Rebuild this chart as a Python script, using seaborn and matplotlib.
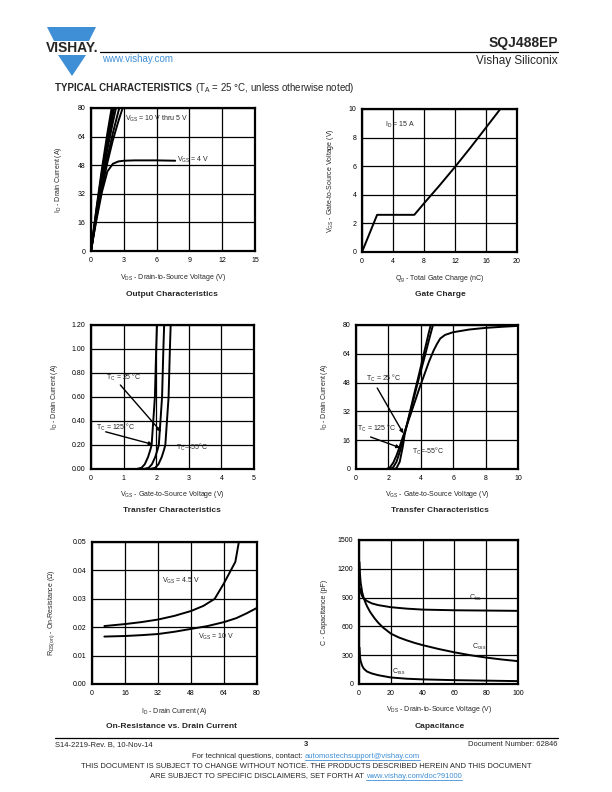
import matplotlib
matplotlib.use("Agg")
import matplotlib.pyplot as plt
import seaborn as sns
from matplotlib.patches import Polygon

sns.set_theme(style="white")
plt.rcParams['font.family'] = ['Liberation Sans', 'DejaVu Sans']
plt.rcParams['mathtext.fontset'] = 'custom'
plt.rcParams['mathtext.rm'] = 'Liberation Sans'
plt.rcParams['mathtext.it'] = 'Liberation Sans:italic'
plt.rcParams['mathtext.bf'] = 'Liberation Sans:bold'

# ---------------- data ----------------
# Output characteristics (VDS in V, ID in A)
out_vds_hi = [0, 0.25, 0.5, 1.0, 1.5, 2.0, 2.5, 3.0]
out_id_10v = [0, 12, 24, 46, 66, 84, 100, 114]
out_id_9v = [0, 11.5, 23, 44, 63, 80, 95, 108]
out_id_8v = [0, 11, 22, 42, 60, 76, 91, 104]
out_id_7v = [0, 10.5, 21, 40, 57, 72, 86, 99]
out_id_6v = [0, 10, 19.5, 37, 52.5, 66, 78, 89]
out_id_5v = [0, 9.5, 18.5, 35, 49.5, 62, 72.5, 82]
out_vds_4v = [0, 0.25, 0.5, 1.0, 1.5, 2.0, 2.5, 3.0, 4.0, 5.0, 6.0, 7.7]
out_id_4v = [0, 9, 17.5, 33, 44.5, 48.8, 50.1, 50.5, 50.7, 50.7, 50.7, 50.5]

# Gate charge
qg_nc = [0, 1.95, 6.75, 8, 10, 12, 14, 16, 17.85]
vgs_v = [0, 2.6, 2.6, 3.4, 4.65, 5.95, 7.3, 8.7, 10]

# Transfer characteristics, low current (VGS in V, ID in A)
tl_vgs_125 = [1.40, 1.55, 1.65, 1.75, 1.82, 1.86, 1.91, 1.96, 2.00, 2.03]
tl_id_125 = [0, 0.01, 0.04, 0.10, 0.16, 0.20, 0.40, 0.60, 1.00, 1.25]
tl_vgs_25 = [1.62, 1.77, 1.87, 1.97, 2.04, 2.08, 2.13, 2.18, 2.22, 2.25]
tl_id_25 = [0, 0.01, 0.04, 0.10, 0.16, 0.20, 0.40, 0.60, 1.00, 1.25]
tl_vgs_m55 = [1.82, 1.97, 2.07, 2.17, 2.24, 2.28, 2.33, 2.38, 2.42, 2.45]
tl_id_m55 = [0, 0.01, 0.04, 0.10, 0.16, 0.20, 0.40, 0.60, 1.00, 1.25]

# Transfer characteristics, full range
tf_vgs_m55 = [0, 2.35, 2.5, 2.7, 2.9, 3.0, 3.3, 3.6, 3.9, 4.2, 4.5, 4.7]
tf_id_m55 = [0, 0, 0.5, 4, 13, 19, 30.5, 42, 53, 64.5, 76, 83]
tf_vgs_25 = [0, 2.1, 2.3, 2.5, 2.7, 2.9, 3.0, 3.3, 3.6, 3.9, 4.2, 4.5, 4.9]
tf_id_25 = [0, 0, 1, 4, 9.5, 16, 20, 30, 40.5, 51, 61, 71.5, 85]
tf_vgs_125 = [0, 1.9, 2.1, 2.3, 2.5, 2.7, 2.9, 3.0, 3.3, 3.6, 3.9, 4.2, 4.5,
              4.8, 5.0, 5.2, 5.5, 6.0, 7.0, 8.0, 9.0, 10.0]
tf_id_125 = [0, 0, 1, 3.5, 7.5, 12.5, 18, 20.5, 28.5, 36.5, 44.5, 52, 59.5,
             66, 69.5, 72.5, 74.5, 76, 77.5, 78.4, 79.0, 79.5]

# On-resistance vs drain current
ron_id_45 = [6, 16, 24, 32, 40, 48, 54, 59.5, 64, 69.5, 71.2]
ron_45 = [0.0204, 0.0211, 0.0218, 0.0227, 0.0240, 0.0257, 0.0275, 0.0300,
          0.0355, 0.0430, 0.0500]
ron_id_10 = [6, 16, 24, 32, 40, 48, 56, 64, 70, 75, 80]
ron_10 = [0.0167, 0.0169, 0.0172, 0.0176, 0.0184, 0.0194, 0.0204, 0.0218,
          0.0232, 0.0249, 0.0268]

# Capacitance (VDS in V, C in pF)
ciss_v = [0.5, 1, 2, 3, 5, 8, 12, 20, 30, 40, 60, 80, 100]
ciss = [1000, 960, 915, 890, 865, 840, 822, 800, 785, 775, 768, 765, 762]
coss_v = [0.3, 0.6, 1, 2, 3, 4, 5, 7, 10, 12, 15, 20, 25, 30, 35, 40, 50,
          60, 70, 80, 90, 100]
coss = [1270, 1150, 1060, 955, 895, 850, 812, 750, 680, 640, 590, 525, 485,
        455, 428, 405, 365, 330, 300, 275, 255, 238]
crss_v = [0.3, 0.6, 1, 2, 3, 5, 8, 12, 20, 30, 40, 60, 80, 100]
crss = [380, 290, 240, 190, 160, 130, 110, 92, 68, 55, 48, 40, 35, 30]

# ---------------- figure ----------------
W, H = 612, 792
fig = plt.figure(figsize=(W / 100, H / 100), dpi=100)
fig.patch.set_facecolor('white')


def rect(l, t, r, b):
    return [l / W, 1 - b / H, (r - l) / W, (b - t) / H]


def ftext(x, y, s, **kw):
    return fig.text(x / W, 1 - y / H, s, **kw)


def sub(a, b):
    return a + r"$_{\mathrm{" + b + r"}}$"


TICK_FS = 5
LAB_FS = 5
LW = 1.4


def style_axes(ax, xt, yt, xfmt, yfmt, xlab, ylab, xlc, ylc):
    ax.set_xlim(xt[0], xt[-1])
    ax.set_ylim(yt[0], yt[-1])
    ax.set_xticks(xt)
    ax.set_yticks(yt)
    ax.set_xticklabels([xfmt.format(v) for v in xt], fontsize=TICK_FS)
    ax.set_yticklabels([yfmt.format(v) for v in yt], fontsize=TICK_FS)
    ax.tick_params(length=0, pad=4, colors='black')
    ax.grid(True, color='black', linewidth=0.9)
    for s in ax.spines.values():
        s.set_visible(True)
        s.set_color('black')
        s.set_linewidth(1.6)
    ax.set_xlabel(xlab, fontsize=LAB_FS)
    ax.set_ylabel(ylab, fontsize=LAB_FS)
    ax.xaxis.set_label_coords(0.5, xlc)
    ax.yaxis.set_label_coords(ylc, 0.5)
    ax.set_facecolor('white')


def line(ax, x, y):
    sns.lineplot(x=x, y=y, ax=ax, color='black', linewidth=LW,
                 estimator=None, sort=False)


ARROW = dict(arrowstyle='-|>', color='black', lw=1.0, mutation_scale=5,
             shrinkA=0, shrinkB=0)

# 1. Output characteristics
ax1 = fig.add_axes(rect(91, 108, 255, 251))
for ids in [out_id_10v, out_id_9v, out_id_8v, out_id_7v, out_id_6v, out_id_5v]:
    line(ax1, out_vds_hi, ids)
line(ax1, out_vds_4v, out_id_4v)
style_axes(ax1, [0, 3, 6, 9, 12, 15], [0, 16, 32, 48, 64, 80], "{:d}", "{:d}",
           sub("V", "DS") + " - Drain-to-Source Voltage (V)",
           sub("I", "D") + " - Drain Current (A)", -0.15, -0.165)
ax1.text(3.1, 74, sub("V", "GS") + " = 10 V thru 5 V", fontsize=5, va='center')
ax1.text(7.9, 51, sub("V", "GS") + " = 4 V", fontsize=5, va='center')

# 2. Gate charge
ax2 = fig.add_axes(rect(362, 109, 517, 252))
line(ax2, qg_nc, vgs_v)
style_axes(ax2, [0, 4, 8, 12, 16, 20], [0, 2, 4, 6, 8, 10], "{:d}", "{:d}",
           sub("Q", "g") + " - Total Gate Charge (nC)",
           sub("V", "GS") + " - Gate-to-Source Voltage (V)", -0.15, -0.17)
ax2.text(3.0, 8.9, sub("I", "D") + " = 15 A", fontsize=5, va='center')

# 3. Transfer characteristics (low)
ax3 = fig.add_axes(rect(91, 325, 254, 469))
line(ax3, tl_vgs_125, tl_id_125)
line(ax3, tl_vgs_25, tl_id_25)
line(ax3, tl_vgs_m55, tl_id_m55)
style_axes(ax3, [0, 1, 2, 3, 4, 5], [0, 0.2, 0.4, 0.6, 0.8, 1.0, 1.2],
           "{:d}", "{:.2f}",
           sub("V", "GS") + " - Gate-to-Source Voltage (V)",
           sub("I", "D") + " - Drain Current (A)", -0.14, -0.19)
ax3.text(0.45, 0.76, sub("T", "C") + " = 25 °C", fontsize=5, va='center')
ax3.annotate("", xy=(2.15, 0.31), xytext=(0.9, 0.70), arrowprops=ARROW)
ax3.text(0.15, 0.345, sub("T", "C") + " = 125 °C", fontsize=5, va='center')
ax3.annotate("", xy=(1.89, 0.205), xytext=(0.45, 0.31), arrowprops=ARROW)
ax3.text(2.62, 0.18, sub("T", "C") + "=-55°C", fontsize=5, va='center')

# 4. Transfer characteristics (full)
ax4 = fig.add_axes(rect(356, 325, 518, 469))
line(ax4, tf_vgs_125, tf_id_125)
line(ax4, tf_vgs_25, tf_id_25)
line(ax4, tf_vgs_m55, tf_id_m55)
style_axes(ax4, [0, 2, 4, 6, 8, 10], [0, 16, 32, 48, 64, 80], "{:d}", "{:d}",
           sub("V", "GS") + " - Gate-to-Source Voltage (V)",
           sub("I", "D") + " - Drain Current (A)", -0.14, -0.16)
ax4.text(0.62, 50.5, sub("T", "C") + " = 25 °C", fontsize=5, va='center')
ax4.annotate("", xy=(2.92, 19.8), xytext=(1.31, 45), arrowprops=ARROW)
ax4.text(0.08, 22.6, sub("T", "C") + " = 125 °C", fontsize=5, va='center')
ax4.annotate("", xy=(2.72, 11.8), xytext=(0.9, 17.8), arrowprops=ARROW)
ax4.text(3.44, 9.6, sub("T", "C") + "=-55°C", fontsize=5, va='center')

# 5. On-resistance
ax5 = fig.add_axes(rect(92, 542, 257, 684))
line(ax5, ron_id_45, ron_45)
line(ax5, ron_id_10, ron_10)
style_axes(ax5, [0, 16, 32, 48, 64, 80], [0, 0.01, 0.02, 0.03, 0.04, 0.05],
           "{:d}", "{:.2f}",
           sub("I", "D") + " - Drain Current (A)",
           sub("R", "DS(on)") + " - On-Resistance (Ω)", -0.155, -0.21)
ax5.text(34, 0.0364, sub("V", "GS") + " = 4.5 V", fontsize=5, va='center')
ax5.text(51.5, 0.0167, sub("V", "GS") + " = 10 V", fontsize=5, va='center')

# 6. Capacitance
ax6 = fig.add_axes(rect(359, 540, 518, 684))
line(ax6, ciss_v, ciss)
line(ax6, coss_v, coss)
line(ax6, crss_v, crss)
style_axes(ax6, [0, 20, 40, 60, 80, 100], [0, 300, 600, 900, 1200, 1500],
           "{:d}", "{:d}",
           sub("V", "DS") + " - Drain-to-Source Voltage (V)",
           "C - Capacitance (pF)", -0.14, -0.195)
ax6.text(69, 893, sub("C", "iss"), fontsize=5, va='center')
ax6.text(71, 383, sub("C", "oss"), fontsize=5, va='center')
ax6.text(21, 128, sub("C", "rss"), fontsize=5, va='center')

# chart titles
for x, y, s in [(172, 294, "Output Characteristics"), (440, 294, "Gate Charge"),
                (172, 510, "Transfer Characteristics"),
                (440, 510, "Transfer Characteristics"),
                (172, 726, "On-Resistance vs. Drain Current"),
                (440, 726, "Capacitance")]:
    ftext(x, y, s, fontsize=6, fontweight='bold', ha='center', va='center')

# ---------------- header ----------------
blue = '#3f8fd6'
tri_top = [(47, 27), (96, 27), (89, 41), (54, 41)]
tri_bot = [(58, 55), (86, 55), (72, 76)]
for pts in (tri_top, tri_bot):
    fig.patches.append(Polygon([(x / W, 1 - y / H) for x, y in pts], closed=True,
                               transform=fig.transFigure, facecolor=blue,
                               edgecolor='none'))
ftext(72, 48, "VISHAY.", fontsize=10, fontweight='bold', ha='center', va='center')
fig.add_artist(plt.Line2D([100 / W, 558 / W], [1 - 52 / H, 1 - 52 / H],
                          color='black', linewidth=0.9, transform=fig.transFigure))
ftext(558, 43, "SQJ488EP", fontsize=10, fontweight='bold', ha='right', va='center')
ftext(558, 61, "Vishay Siliconix", fontsize=8.5, ha='right', va='center')
ftext(102, 59, "www.vishay.com", fontsize=7, color=blue, ha='left', va='center')

t1 = ftext(55, 88, "TYPICAL CHARACTERISTICS", fontsize=7, fontweight='bold',
           ha='left', va='center')
fig.canvas.draw()
R = fig.canvas.get_renderer()
bb = t1.get_window_extent(renderer=R)
fig.text((bb.x1 + 3) / W, 1 - 88 / H,
         "(" + sub("T", "A") + " = 25 °C, unless otherwise noted)",
         fontsize=7, ha='left', va='center')

# ---------------- footer ----------------
fig.add_artist(plt.Line2D([55 / W, 558 / W], [1 - 738 / H, 1 - 738 / H],
                          color='black', linewidth=0.9, transform=fig.transFigure))
FS = 5.5
ftext(55, 745, "S14-2219-Rev. B, 10-Nov-14", fontsize=FS, ha='left', va='center')
ftext(306, 745, "3", fontsize=FS, fontweight='bold', ha='center', va='center')
ftext(558, 745, "Document Number: 62846", fontsize=FS, ha='right', va='center')
ftext(306, 767, "THIS DOCUMENT IS SUBJECT TO CHANGE WITHOUT NOTICE. THE PRODUCTS "
      "DESCRIBED HEREIN AND THIS DOCUMENT", fontsize=FS, ha='center', va='center')


def two_part(y, plain, link):
    a = ftext(0, y, plain, fontsize=FS, ha='left', va='center')
    b = ftext(0, y, link, fontsize=FS, ha='left', va='center', color=blue)
    fig.canvas.draw()
    wa = a.get_window_extent(renderer=R).width
    wb = b.get_window_extent(renderer=R).width
    x0 = 306 - (wa + wb) / 2
    a.set_x(x0 / W)
    b.set_x((x0 + wa) / W)
    fig.add_artist(plt.Line2D([(x0 + wa) / W, (x0 + wa + wb) / W],
                              [1 - (y + 3.5) / H, 1 - (y + 3.5) / H],
                              color=blue, linewidth=0.6,
                              transform=fig.transFigure))


two_part(756, "For technical questions, contact: ", "automostechsupport@vishay.com")
two_part(776, "ARE SUBJECT TO SPECIFIC DISCLAIMERS, SET FORTH AT ",
         "www.vishay.com/doc?91000")

fig.savefig("out.png", dpi=100, facecolor='white')
